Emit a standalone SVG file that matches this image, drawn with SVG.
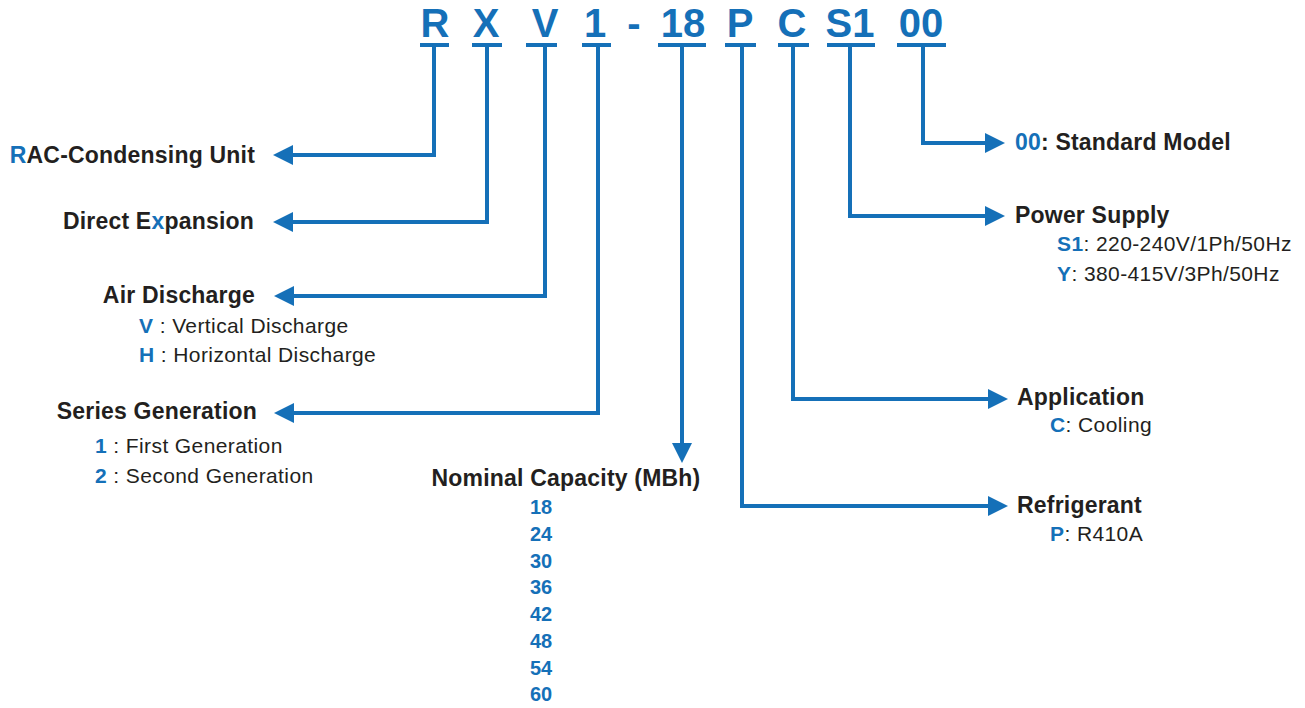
<svg xmlns="http://www.w3.org/2000/svg" width="1305" height="708" viewBox="0 0 1305 708">
<style>
.code{font-family:"Liberation Sans",Arial,sans-serif;font-weight:bold;font-size:40px;fill:#1570b8;text-anchor:middle}
.h{font-family:"Liberation Sans",Arial,sans-serif;font-weight:bold;font-size:23px;fill:#231f20;letter-spacing:0.2px}
.s{font-family:"Liberation Sans",Arial,sans-serif;font-size:21px;fill:#231f20;letter-spacing:0.4px}
.b{font-weight:bold;fill:#1570b8}
.num{font-family:"Liberation Sans",Arial,sans-serif;font-weight:bold;font-size:20px;fill:#1570b8;text-anchor:middle}
.ul{stroke:#1570b8;stroke-width:4}
.c{fill:none;stroke:#1570b8;stroke-width:4}
</style>
<defs>
<marker id="ah" viewBox="0 0 20 20" refX="0" refY="10" markerWidth="20" markerHeight="20" markerUnits="userSpaceOnUse" orient="auto">
<path d="M0,0 L20,10 L0,20 z" fill="#1570b8"/>
</marker>
</defs>
<rect width="1305" height="708" fill="#ffffff"/>
<g id="code">
<text class="code" x="435" y="37">R</text>
<text class="code" x="486" y="37">X</text>
<text class="code" x="545" y="37">V</text>
<text class="code" x="595" y="37">1</text>
<text class="code" x="634" y="37">-</text>
<text class="code" x="683" y="37">18</text>
<text class="code" x="740" y="37">P</text>
<text class="code" x="792" y="37">C</text>
<text class="code" x="850" y="37">S1</text>
<text class="code" x="921" y="37">00</text>
<line class="ul" x1="420" y1="45" x2="449" y2="45"/>
<line class="ul" x1="472" y1="45" x2="502" y2="45"/>
<line class="ul" x1="526" y1="45" x2="557" y2="45"/>
<line class="ul" x1="582" y1="45" x2="611" y2="45"/>
<line class="ul" x1="658" y1="45" x2="706" y2="45"/>
<line class="ul" x1="725" y1="45" x2="756" y2="45"/>
<line class="ul" x1="778" y1="45" x2="809" y2="45"/>
<line class="ul" x1="827" y1="45" x2="875" y2="45"/>
<line class="ul" x1="897" y1="45" x2="946" y2="45" stroke-width="3"/>
</g>
<g id="connectors">
<path class="c" d="M434,45 V155 H293" marker-end="url(#ah)"/>
<path class="c" d="M487,45 V222 H293" marker-end="url(#ah)"/>
<path class="c" d="M545,45 V296 H294" marker-end="url(#ah)"/>
<path class="c" d="M598,45 V413 H294" marker-end="url(#ah)"/>
<path class="c" d="M682,45 V443" marker-end="url(#ah)"/>
<path class="c" d="M742,45 V506 H988" marker-end="url(#ah)"/>
<path class="c" d="M793,45 V399 H988" marker-end="url(#ah)"/>
<path class="c" d="M850,45 V216 H985" marker-end="url(#ah)"/>
<path class="c" d="M923,45 V143 H985" marker-end="url(#ah)"/>
</g>
<g id="rac">
<text class="h" x="255" y="163" text-anchor="end"><tspan fill="#1570b8">R</tspan>AC-Condensing Unit</text>
</g>
<g id="dx">
<text class="h" x="254" y="229" text-anchor="end">Direct E<tspan fill="#1570b8">x</tspan>pansion</text>
</g>
<g id="air">
<text class="h" x="255" y="303" text-anchor="end">Air Discharge</text>
<text class="s" x="139" y="333"><tspan class="b">V</tspan> : Vertical Discharge</text>
<text class="s" x="139" y="362"><tspan class="b">H</tspan> : Horizontal Discharge</text>
</g>
<g id="series">
<text class="h" x="257" y="419" text-anchor="end">Series Generation</text>
<text class="s" x="95" y="453"><tspan class="b">1</tspan> : First Generation</text>
<text class="s" x="95" y="483"><tspan class="b">2</tspan> : Second Generation</text>
</g>
<g id="capacity">
<text class="h" x="566" y="486" text-anchor="middle">Nominal Capacity (MBh)</text>
<text class="num" x="541" y="514">18</text>
<text class="num" x="541" y="541">24</text>
<text class="num" x="541" y="568">30</text>
<text class="num" x="541" y="594">36</text>
<text class="num" x="541" y="621">42</text>
<text class="num" x="541" y="648">48</text>
<text class="num" x="541" y="675">54</text>
<text class="num" x="541" y="701">60</text>
</g>
<g id="refrigerant">
<text class="h" x="1017" y="513">Refrigerant</text>
<text class="s" x="1050" y="541"><tspan class="b">P</tspan>: R410A</text>
</g>
<g id="application">
<text class="h" x="1017" y="405">Application</text>
<text class="s" x="1050" y="432"><tspan class="b">C</tspan>: Cooling</text>
</g>
<g id="power">
<text class="h" x="1015" y="223">Power Supply</text>
<text class="s" x="1057" y="251"><tspan class="b">S1</tspan>: 220-240V/1Ph/50Hz</text>
<text class="s" x="1057" y="281"><tspan class="b">Y</tspan>: 380-415V/3Ph/50Hz</text>
</g>
<g id="model">
<text class="h" x="1015" y="150"><tspan fill="#1570b8">00</tspan>: Standard Model</text>
</g>
</svg>
